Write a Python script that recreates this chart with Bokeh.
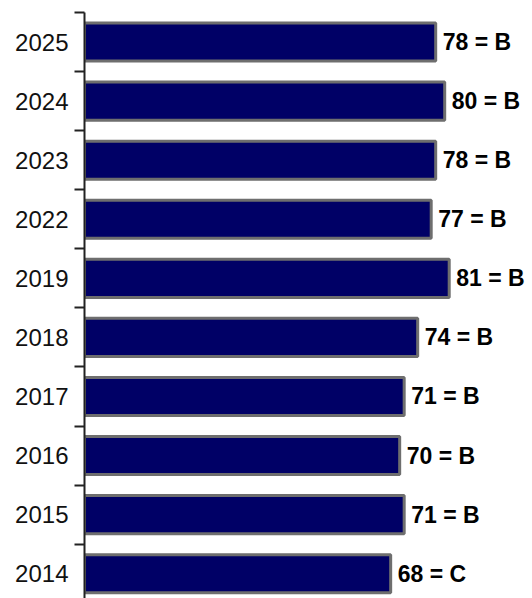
from bokeh.plotting import figure
from bokeh.models import (ColumnDataSource, Range1d, LinearAxis, FixedTicker)
from bokeh.core.properties import value
from bokeh.embed import file_html
from bokeh.resources import INLINE

years = ["2025", "2024", "2023", "2022", "2019", "2018", "2017", "2016", "2015", "2014"]
scores = [78, 80, 78, 77, 81, 74, 71, 70, 71, 68]
grades = ["B", "B", "B", "B", "B", "B", "B", "B", "B", "C"]

n = len(years)
labels = [f"{s} = {g}" for s, g in zip(scores, grades)]
# row positions: first year at the top, slot centres at half-integers
ypos = [n - 0.5 - i for i in range(n)]
source = ColumnDataSource(data=dict(y=ypos, year=years, score=scores, label=labels))

p = figure(width=532, height=598, output_backend="svg", toolbar_location=None,
           y_range=Range1d(0.08, n), x_range=Range1d(0, 99.5),
           x_axis_location=None, y_axis_location=None,
           min_border_left=84, min_border_right=0, min_border_top=12, min_border_bottom=0)
p.outline_line_color = None
p.xgrid.visible = False
p.ygrid.visible = False
p.background_fill_color = "white"
p.border_fill_color = "white"

p.hbar(y="y", right="score", left=0, height=0.645, source=source,
       fill_color="#000066", line_color="#6e6e6e", line_width=3)

p.text(x="score", y="y", text="label", source=source, x_offset=7,
       text_baseline="middle", text_align="left",
       text_font=value("Liberation Sans"), text_font_style="bold",
       text_font_size="23px", text_color="black")

# Axis with ticks at slot boundaries (no labels)
bounds = list(range(n + 1))
tick_axis = LinearAxis(ticker=FixedTicker(ticks=bounds, minor_ticks=[]),
                       major_label_overrides={b: "" for b in bounds},
                       major_label_standoff=0,
                       major_tick_out=10, major_tick_in=0, minor_tick_out=0, minor_tick_in=0,
                       axis_line_color="#222222", axis_line_width=2,
                       major_tick_line_color="#222222", major_tick_line_width=2)
p.add_layout(tick_axis, "left")

# Axis carrying the year labels at slot centres (no ticks, no line)
label_axis = LinearAxis(ticker=FixedTicker(ticks=ypos, minor_ticks=[]),
                        major_label_overrides={yv: yr for yv, yr in zip(ypos, years)},
                        axis_line_color=None, major_tick_line_color=None,
                        minor_tick_line_color=None, major_tick_out=0, major_tick_in=0,
                        major_label_standoff=6,
                        major_label_text_font="Liberation Sans",
                        major_label_text_font_size="24px",
                        major_label_text_color="#111111")
p.add_layout(label_axis, "left")

open("out.html", "w").write(file_html(p, INLINE))
